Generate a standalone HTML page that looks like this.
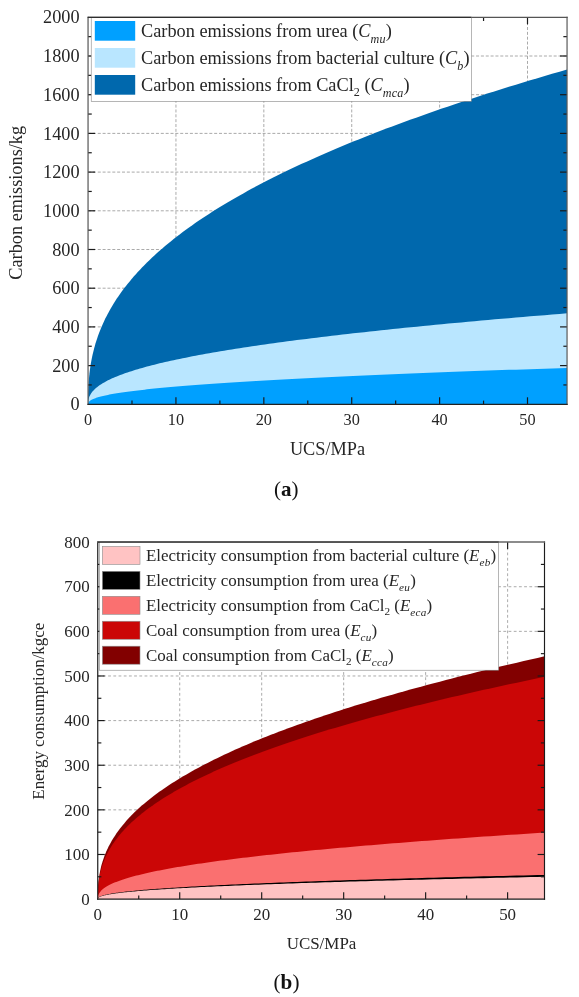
<!DOCTYPE html>
<html lang="en"><head><meta charset="utf-8"><title>Carbon emissions and energy consumption vs UCS</title>
<style>html,body{margin:0;padding:0;background:#fff}svg{display:block;will-change:transform}</style>
</head><body>
<svg width="579" height="997" viewBox="0 0 579 997">
<rect width="579" height="997" fill="#ffffff"/>
<g stroke="#7c7c7c" stroke-width="0.65" stroke-dasharray="3 1.85" fill="none">
<line x1="175.94" y1="17.3" x2="175.94" y2="404.3"/>
<line x1="263.83" y1="17.3" x2="263.83" y2="404.3"/>
<line x1="351.72" y1="17.3" x2="351.72" y2="404.3"/>
<line x1="439.61" y1="17.3" x2="439.61" y2="404.3"/>
<line x1="527.5" y1="17.3" x2="527.5" y2="404.3"/>
<line x1="88.05" y1="365.6" x2="567.05" y2="365.6"/>
<line x1="88.05" y1="326.9" x2="567.05" y2="326.9"/>
<line x1="88.05" y1="288.2" x2="567.05" y2="288.2"/>
<line x1="88.05" y1="249.5" x2="567.05" y2="249.5"/>
<line x1="88.05" y1="210.8" x2="567.05" y2="210.8"/>
<line x1="88.05" y1="172.1" x2="567.05" y2="172.1"/>
<line x1="88.05" y1="133.4" x2="567.05" y2="133.4"/>
<line x1="88.05" y1="94.7" x2="567.05" y2="94.7"/>
<line x1="88.05" y1="56" x2="567.05" y2="56"/>
</g>
<clipPath id="clipA"><rect x="88.05" y="17.3" width="479" height="387"/></clipPath>
<g clip-path="url(#clipA)">
<path d="M88.05,404.3L88.05,404.3L88.06,400.42L88.09,397.05L88.15,393.85L88.24,390.75L88.36,387.73L88.52,384.77L88.71,381.85L88.93,378.98L89.19,376.14L89.49,373.33L89.83,370.55L90.2,367.8L90.62,365.06L91.07,362.35L91.57,359.66L92.1,356.98L92.68,354.32L93.3,351.68L93.97,349.05L94.67,346.43L95.42,343.83L96.22,341.24L97.06,338.66L97.94,336.09L98.87,333.53L99.85,330.98L100.87,328.44L101.94,325.91L103.05,323.39L104.21,320.88L105.42,318.37L106.68,315.88L107.98,313.39L109.34,310.91L110.74,308.43L112.19,305.97L113.69,303.51L115.24,301.05L116.84,298.6L118.49,296.16L120.19,293.73L121.93,291.3L123.73,288.87L125.59,286.45L127.49,284.04L129.44,281.63L131.45,279.23L133.51,276.83L135.61,274.44L137.78,272.05L139.99,269.67L142.26,267.29L144.58,264.91L146.95,262.54L149.38,260.18L151.86,257.82L154.39,255.46L156.98,253.11L159.62,250.76L162.32,248.41L165.07,246.07L167.87,243.73L170.73,241.4L173.65,239.07L176.62,236.74L179.64,234.42L182.72,232.1L185.86,229.78L189.05,227.47L192.3,225.16L195.6,222.85L198.96,220.55L202.38,218.25L205.85,215.95L209.39,213.66L212.97,211.36L216.62,209.08L220.32,206.79L224.08,204.51L227.9,202.23L231.77,199.95L235.7,197.68L239.69,195.41L243.74,193.14L247.85,190.87L252.01,188.61L256.24,186.35L260.52,184.09L264.86,181.83L269.26,179.58L273.72,177.33L278.24,175.08L282.82,172.83L287.45,170.59L292.15,168.35L296.91,166.11L301.72,163.87L306.6,161.64L311.54,159.4L316.53,157.17L321.59,154.95L326.71,152.72L331.88,150.5L337.12,148.27L342.42,146.05L347.78,143.84L353.2,141.62L358.69,139.41L364.23,137.2L369.83,134.99L375.5,132.78L381.23,130.58L387.02,128.37L392.87,126.17L398.78,123.97L404.76,121.77L410.8,119.58L416.9,117.38L423.06,115.19L429.28,113L435.57,110.81L441.92,108.62L448.33,106.44L454.81,104.26L461.35,102.07L467.95,99.89L474.61,97.72L481.34,95.54L488.13,93.36L494.99,91.19L501.91,89.02L508.89,86.85L515.94,84.68L523.05,82.51L530.22,80.35L537.46,78.18L544.76,76.02L552.12,73.86L559.56,71.7L567.05,69.55L567.05,404.3Z" fill="#0068ad"/>
<path d="M88.05,404.3L88.05,404.3L88.06,403.35L88.09,402.51L88.15,401.69L88.24,400.9L88.36,400.12L88.52,399.35L88.71,398.59L88.93,397.84L89.19,397.1L89.49,396.36L89.83,395.63L90.2,394.9L90.62,394.18L91.07,393.47L91.57,392.75L92.1,392.04L92.68,391.34L93.3,390.63L93.97,389.93L94.67,389.24L95.42,388.54L96.22,387.85L97.06,387.16L97.94,386.47L98.87,385.79L99.85,385.1L100.87,384.42L101.94,383.74L103.05,383.07L104.21,382.39L105.42,381.72L106.68,381.05L107.98,380.37L109.34,379.71L110.74,379.04L112.19,378.37L113.69,377.71L115.24,377.04L116.84,376.38L118.49,375.72L120.19,375.06L121.93,374.4L123.73,373.75L125.59,373.09L127.49,372.43L129.44,371.78L131.45,371.13L133.51,370.48L135.61,369.83L137.78,369.18L139.99,368.53L142.26,367.88L144.58,367.23L146.95,366.59L149.38,365.94L151.86,365.3L154.39,364.66L156.98,364.01L159.62,363.37L162.32,362.73L165.07,362.09L167.87,361.45L170.73,360.81L173.65,360.18L176.62,359.54L179.64,358.9L182.72,358.27L185.86,357.63L189.05,357L192.3,356.37L195.6,355.74L198.96,355.1L202.38,354.47L205.85,353.84L209.39,353.21L212.97,352.58L216.62,351.96L220.32,351.33L224.08,350.7L227.9,350.07L231.77,349.45L235.7,348.82L239.69,348.2L243.74,347.57L247.85,346.95L252.01,346.33L256.24,345.7L260.52,345.08L264.86,344.46L269.26,343.84L273.72,343.22L278.24,342.6L282.82,341.98L287.45,341.36L292.15,340.74L296.91,340.12L301.72,339.51L306.6,338.89L311.54,338.27L316.53,337.66L321.59,337.04L326.71,336.43L331.88,335.81L337.12,335.2L342.42,334.58L347.78,333.97L353.2,333.36L358.69,332.74L364.23,332.13L369.83,331.52L375.5,330.91L381.23,330.3L387.02,329.69L392.87,329.08L398.78,328.47L404.76,327.86L410.8,327.25L416.9,326.64L423.06,326.04L429.28,325.43L435.57,324.82L441.92,324.21L448.33,323.61L454.81,323L461.35,322.4L467.95,321.79L474.61,321.19L481.34,320.58L488.13,319.98L494.99,319.37L501.91,318.77L508.89,318.17L515.94,317.56L523.05,316.96L530.22,316.36L537.46,315.76L544.76,315.16L552.12,314.56L559.56,313.96L567.05,313.36L567.05,404.3Z" fill="#b9e6ff"/>
<path d="M88.05,404.3L88.05,404.3L88.06,403.94L88.09,403.62L88.15,403.3L88.24,402.99L88.36,402.69L88.52,402.39L88.71,402.09L88.93,401.8L89.19,401.5L89.49,401.22L89.83,400.93L90.2,400.64L90.62,400.36L91.07,400.07L91.57,399.79L92.1,399.51L92.68,399.23L93.3,398.96L93.97,398.68L94.67,398.4L95.42,398.13L96.22,397.85L97.06,397.58L97.94,397.31L98.87,397.03L99.85,396.76L100.87,396.49L101.94,396.22L103.05,395.95L104.21,395.68L105.42,395.42L106.68,395.15L107.98,394.88L109.34,394.61L110.74,394.35L112.19,394.08L113.69,393.82L115.24,393.55L116.84,393.29L118.49,393.02L120.19,392.76L121.93,392.5L123.73,392.24L125.59,391.97L127.49,391.71L129.44,391.45L131.45,391.19L133.51,390.93L135.61,390.67L137.78,390.41L139.99,390.15L142.26,389.89L144.58,389.63L146.95,389.37L149.38,389.11L151.86,388.86L154.39,388.6L156.98,388.34L159.62,388.08L162.32,387.83L165.07,387.57L167.87,387.31L170.73,387.06L173.65,386.8L176.62,386.55L179.64,386.29L182.72,386.04L185.86,385.78L189.05,385.53L192.3,385.27L195.6,385.02L198.96,384.76L202.38,384.51L205.85,384.26L209.39,384L212.97,383.75L216.62,383.5L220.32,383.25L224.08,382.99L227.9,382.74L231.77,382.49L235.7,382.24L239.69,381.99L243.74,381.74L247.85,381.49L252.01,381.23L256.24,380.98L260.52,380.73L264.86,380.48L269.26,380.23L273.72,379.98L278.24,379.73L282.82,379.48L287.45,379.23L292.15,378.98L296.91,378.74L301.72,378.49L306.6,378.24L311.54,377.99L316.53,377.74L321.59,377.49L326.71,377.24L331.88,377L337.12,376.75L342.42,376.5L347.78,376.25L353.2,376.01L358.69,375.76L364.23,375.51L369.83,375.27L375.5,375.02L381.23,374.77L387.02,374.53L392.87,374.28L398.78,374.03L404.76,373.79L410.8,373.54L416.9,373.3L423.06,373.05L429.28,372.8L435.57,372.56L441.92,372.31L448.33,372.07L454.81,371.82L461.35,371.58L467.95,371.33L474.61,371.09L481.34,370.85L488.13,370.6L494.99,370.36L501.91,370.11L508.89,369.87L515.94,369.63L523.05,369.38L530.22,369.14L537.46,368.89L544.76,368.65L552.12,368.41L559.56,368.17L567.05,367.92L567.05,404.3Z" fill="#00a0ff"/>
</g>
<g stroke="#1a1a1a" stroke-width="1.2" fill="none">
<line x1="175.94" y1="404.3" x2="175.94" y2="397.3"/>
<line x1="175.94" y1="17.3" x2="175.94" y2="24.3"/>
<line x1="263.83" y1="404.3" x2="263.83" y2="397.3"/>
<line x1="263.83" y1="17.3" x2="263.83" y2="24.3"/>
<line x1="351.72" y1="404.3" x2="351.72" y2="397.3"/>
<line x1="351.72" y1="17.3" x2="351.72" y2="24.3"/>
<line x1="439.61" y1="404.3" x2="439.61" y2="397.3"/>
<line x1="439.61" y1="17.3" x2="439.61" y2="24.3"/>
<line x1="527.5" y1="404.3" x2="527.5" y2="397.3"/>
<line x1="527.5" y1="17.3" x2="527.5" y2="24.3"/>
<line x1="131.99" y1="404.3" x2="131.99" y2="400.6"/>
<line x1="131.99" y1="17.3" x2="131.99" y2="21"/>
<line x1="219.88" y1="404.3" x2="219.88" y2="400.6"/>
<line x1="219.88" y1="17.3" x2="219.88" y2="21"/>
<line x1="307.77" y1="404.3" x2="307.77" y2="400.6"/>
<line x1="307.77" y1="17.3" x2="307.77" y2="21"/>
<line x1="395.66" y1="404.3" x2="395.66" y2="400.6"/>
<line x1="395.66" y1="17.3" x2="395.66" y2="21"/>
<line x1="483.55" y1="404.3" x2="483.55" y2="400.6"/>
<line x1="483.55" y1="17.3" x2="483.55" y2="21"/>
<line x1="88.05" y1="365.6" x2="95.05" y2="365.6"/>
<line x1="567.05" y1="365.6" x2="560.05" y2="365.6"/>
<line x1="88.05" y1="326.9" x2="95.05" y2="326.9"/>
<line x1="567.05" y1="326.9" x2="560.05" y2="326.9"/>
<line x1="88.05" y1="288.2" x2="95.05" y2="288.2"/>
<line x1="567.05" y1="288.2" x2="560.05" y2="288.2"/>
<line x1="88.05" y1="249.5" x2="95.05" y2="249.5"/>
<line x1="567.05" y1="249.5" x2="560.05" y2="249.5"/>
<line x1="88.05" y1="210.8" x2="95.05" y2="210.8"/>
<line x1="567.05" y1="210.8" x2="560.05" y2="210.8"/>
<line x1="88.05" y1="172.1" x2="95.05" y2="172.1"/>
<line x1="567.05" y1="172.1" x2="560.05" y2="172.1"/>
<line x1="88.05" y1="133.4" x2="95.05" y2="133.4"/>
<line x1="567.05" y1="133.4" x2="560.05" y2="133.4"/>
<line x1="88.05" y1="94.7" x2="95.05" y2="94.7"/>
<line x1="567.05" y1="94.7" x2="560.05" y2="94.7"/>
<line x1="88.05" y1="56" x2="95.05" y2="56"/>
<line x1="567.05" y1="56" x2="560.05" y2="56"/>
<line x1="88.05" y1="384.95" x2="91.75" y2="384.95"/>
<line x1="567.05" y1="384.95" x2="563.35" y2="384.95"/>
<line x1="88.05" y1="346.25" x2="91.75" y2="346.25"/>
<line x1="567.05" y1="346.25" x2="563.35" y2="346.25"/>
<line x1="88.05" y1="307.55" x2="91.75" y2="307.55"/>
<line x1="567.05" y1="307.55" x2="563.35" y2="307.55"/>
<line x1="88.05" y1="268.85" x2="91.75" y2="268.85"/>
<line x1="567.05" y1="268.85" x2="563.35" y2="268.85"/>
<line x1="88.05" y1="230.15" x2="91.75" y2="230.15"/>
<line x1="567.05" y1="230.15" x2="563.35" y2="230.15"/>
<line x1="88.05" y1="191.45" x2="91.75" y2="191.45"/>
<line x1="567.05" y1="191.45" x2="563.35" y2="191.45"/>
<line x1="88.05" y1="152.75" x2="91.75" y2="152.75"/>
<line x1="567.05" y1="152.75" x2="563.35" y2="152.75"/>
<line x1="88.05" y1="114.05" x2="91.75" y2="114.05"/>
<line x1="567.05" y1="114.05" x2="563.35" y2="114.05"/>
<line x1="88.05" y1="75.35" x2="91.75" y2="75.35"/>
<line x1="567.05" y1="75.35" x2="563.35" y2="75.35"/>
<line x1="88.05" y1="36.65" x2="91.75" y2="36.65"/>
<line x1="567.05" y1="36.65" x2="563.35" y2="36.65"/>
<line x1="88.05" y1="16.7" x2="88.05" y2="404.9" stroke="#555" stroke-width="1.2"/>
<line x1="567.05" y1="16.7" x2="567.05" y2="404.9" stroke="#5a5a5a" stroke-width="1.2"/>
<line x1="87.45" y1="17.3" x2="567.65" y2="17.3" stroke="#555" stroke-width="1.2"/>
<line x1="87.45" y1="404.3" x2="567.65" y2="404.3" stroke="#222" stroke-width="1.25"/>
</g>
<g font-family='"Liberation Serif", "DejaVu Serif", serif' font-size="18.3" fill="#262626">
<text x="79.55" y="410.43" text-anchor="end">0</text>
<text x="79.55" y="371.73" text-anchor="end">200</text>
<text x="79.55" y="333.03" text-anchor="end">400</text>
<text x="79.55" y="294.33" text-anchor="end">600</text>
<text x="79.55" y="255.63" text-anchor="end">800</text>
<text x="79.55" y="216.93" text-anchor="end">1000</text>
<text x="79.55" y="178.23" text-anchor="end">1200</text>
<text x="79.55" y="139.53" text-anchor="end">1400</text>
<text x="79.55" y="100.83" text-anchor="end">1600</text>
<text x="79.55" y="62.13" text-anchor="end">1800</text>
<text x="79.55" y="23.43" text-anchor="end">2000</text>
<text x="88.05" y="425.2" text-anchor="middle" font-size="16.3">0</text>
<text x="175.94" y="425.2" text-anchor="middle" font-size="16.3">10</text>
<text x="263.83" y="425.2" text-anchor="middle" font-size="16.3">20</text>
<text x="351.72" y="425.2" text-anchor="middle" font-size="16.3">30</text>
<text x="439.61" y="425.2" text-anchor="middle" font-size="16.3">40</text>
<text x="527.5" y="425.2" text-anchor="middle" font-size="16.3">50</text>
</g>
<rect x="91.2" y="17.3" width="380.2" height="84" fill="#ffffff" stroke="#7a7a7a" stroke-width="0.55"/>
<line x1="88.05" y1="17.3" x2="471.4" y2="17.3" stroke="#2e2e2e" stroke-width="1.35"/>
<g font-family='"Liberation Serif", "DejaVu Serif", serif' font-size="18.3" fill="#262626">
<rect x="94.8" y="21" width="40.4" height="19.7" fill="#00a0ff"/>
<text x="141" y="36.8" xml:space="preserve">Carbon emissions from urea (<tspan font-style="italic">C</tspan><tspan font-style="italic" font-size="12.08" dy="5.86" letter-spacing="0.25">mu</tspan><tspan dy="-5.86">)</tspan></text>
<rect x="94.8" y="48" width="40.4" height="19.7" fill="#b9e6ff"/>
<text x="141" y="63.8" xml:space="preserve">Carbon emissions from bacterial culture (<tspan font-style="italic">C</tspan><tspan font-style="italic" font-size="12.08" dy="5.86" letter-spacing="0.25">b</tspan><tspan dy="-5.86">)</tspan></text>
<rect x="94.8" y="75" width="40.4" height="19.7" fill="#0068ad"/>
<text x="141" y="90.8" xml:space="preserve">Carbon emissions from CaCl<tspan font-size="12.08" dy="4.94">2</tspan><tspan dy="-4.94"> (</tspan><tspan font-style="italic">C</tspan><tspan font-style="italic" font-size="12.08" dy="5.86" letter-spacing="0.25">mca</tspan><tspan dy="-5.86">)</tspan></text>
</g>
<g font-family='"Liberation Serif", "DejaVu Serif", serif' font-size="18.3" fill="#262626">
<text x="327.5" y="455" text-anchor="middle">UCS/MPa</text>
<text transform="translate(21.9,202.8) rotate(-90)" text-anchor="middle">Carbon emissions/kg</text>
</g>
<text x="286.3" y="496.2" text-anchor="middle" font-family='"Liberation Serif", "DejaVu Serif", serif' font-size="21" fill="#111">(<tspan font-weight="bold">a</tspan>)</text>
<g stroke="#7c7c7c" stroke-width="0.65" stroke-dasharray="2.8 2.4" fill="none">
<line x1="179.72" y1="542.1" x2="179.72" y2="899.1"/>
<line x1="261.69" y1="542.1" x2="261.69" y2="899.1"/>
<line x1="343.67" y1="542.1" x2="343.67" y2="899.1"/>
<line x1="425.64" y1="542.1" x2="425.64" y2="899.1"/>
<line x1="507.61" y1="542.1" x2="507.61" y2="899.1"/>
<line x1="97.75" y1="854.48" x2="544.5" y2="854.48"/>
<line x1="97.75" y1="809.85" x2="544.5" y2="809.85"/>
<line x1="97.75" y1="765.23" x2="544.5" y2="765.23"/>
<line x1="97.75" y1="720.6" x2="544.5" y2="720.6"/>
<line x1="97.75" y1="675.98" x2="544.5" y2="675.98"/>
<line x1="97.75" y1="631.35" x2="544.5" y2="631.35"/>
<line x1="97.75" y1="586.73" x2="544.5" y2="586.73"/>
</g>
<clipPath id="clipB"><rect x="97.75" y="542.1" width="446.75" height="357"/></clipPath>
<g clip-path="url(#clipB)">
<path d="M97.75,899.1L97.75,899.1L97.76,896.35L97.79,893.94L97.85,891.65L97.93,889.43L98.04,887.26L98.19,885.13L98.36,883.03L98.57,880.97L98.82,878.92L99.09,876.9L99.41,874.9L99.76,872.91L100.14,870.94L100.57,868.99L101.03,867.04L101.53,865.11L102.07,863.19L102.65,861.28L103.27,859.38L103.93,857.49L104.63,855.61L105.37,853.74L106.15,851.87L106.98,850.01L107.84,848.16L108.75,846.32L109.71,844.48L110.7,842.65L111.74,840.83L112.82,839.01L113.95,837.2L115.12,835.39L116.34,833.59L117.6,831.79L118.91,830L120.26,828.21L121.66,826.43L123.11,824.65L124.6,822.88L126.14,821.11L127.72,819.35L129.35,817.58L131.03,815.83L132.76,814.07L134.53,812.32L136.36,810.58L138.23,808.84L140.14,807.1L142.11,805.36L144.13,803.63L146.19,801.9L148.31,800.17L150.47,798.45L152.69,796.73L154.95,795.01L157.26,793.3L159.62,791.59L162.04,789.88L164.5,788.18L167.02,786.47L169.58,784.77L172.2,783.08L174.86,781.38L177.58,779.69L180.35,778L183.17,776.31L186.05,774.63L188.97,772.94L191.95,771.26L194.98,769.58L198.06,767.91L201.2,766.23L204.38,764.56L207.62,762.89L210.92,761.23L214.26,759.56L217.66,757.9L221.11,756.24L224.62,754.58L228.18,752.92L231.79,751.26L235.46,749.61L239.18,747.96L242.96,746.31L246.79,744.66L250.68,743.02L254.61,741.37L258.61,739.73L262.66,738.09L266.76,736.45L270.92,734.81L275.13,733.18L279.4,731.54L283.73,729.91L288.11,728.28L292.55,726.65L297.04,725.02L301.59,723.4L306.19,721.77L310.85,720.15L315.57,718.53L320.34,716.91L325.17,715.29L330.05,713.68L335,712.06L340,710.45L345.05,708.83L350.16,707.22L355.34,705.61L360.56,704.01L365.85,702.4L371.19,700.79L376.59,699.19L382.05,697.59L387.56,695.98L393.14,694.38L398.77,692.79L404.46,691.19L410.2,689.59L416.01,688L421.87,686.4L427.8,684.81L433.78,683.22L439.82,681.63L445.91,680.04L452.07,678.45L458.29,676.86L464.56,675.28L470.9,673.69L477.29,672.11L483.74,670.53L490.26,668.95L496.83,667.37L503.46,665.79L510.15,664.21L516.9,662.64L523.71,661.06L530.58,659.49L537.51,657.91L544.5,656.34L544.5,899.1Z" fill="#820000"/>
<path d="M97.75,899.1L97.75,899.1L97.76,896.58L97.79,894.37L97.85,892.28L97.93,890.24L98.04,888.26L98.19,886.31L98.36,884.39L98.57,882.5L98.82,880.63L99.09,878.78L99.41,876.94L99.76,875.13L100.14,873.32L100.57,871.53L101.03,869.75L101.53,867.98L102.07,866.23L102.65,864.48L103.27,862.74L103.93,861.01L104.63,859.29L105.37,857.57L106.15,855.87L106.98,854.17L107.84,852.47L108.75,850.78L109.71,849.1L110.7,847.43L111.74,845.76L112.82,844.09L113.95,842.43L115.12,840.78L116.34,839.13L117.6,837.48L118.91,835.84L120.26,834.21L121.66,832.58L123.11,830.95L124.6,829.33L126.14,827.71L127.72,826.09L129.35,824.48L131.03,822.87L132.76,821.26L134.53,819.66L136.36,818.06L138.23,816.47L140.14,814.88L142.11,813.29L144.13,811.7L146.19,810.12L148.31,808.54L150.47,806.96L152.69,805.39L154.95,803.82L157.26,802.25L159.62,800.68L162.04,799.12L164.5,797.56L167.02,796L169.58,794.44L172.2,792.89L174.86,791.33L177.58,789.79L180.35,788.24L183.17,786.69L186.05,785.15L188.97,783.61L191.95,782.07L194.98,780.54L198.06,779L201.2,777.47L204.38,775.94L207.62,774.41L210.92,772.88L214.26,771.36L217.66,769.84L221.11,768.32L224.62,766.8L228.18,765.28L231.79,763.77L235.46,762.25L239.18,760.74L242.96,759.23L246.79,757.72L250.68,756.22L254.61,754.71L258.61,753.21L262.66,751.7L266.76,750.2L270.92,748.71L275.13,747.21L279.4,745.71L283.73,744.22L288.11,742.73L292.55,741.23L297.04,739.74L301.59,738.26L306.19,736.77L310.85,735.28L315.57,733.8L320.34,732.32L325.17,730.84L330.05,729.36L335,727.88L340,726.4L345.05,724.92L350.16,723.45L355.34,721.97L360.56,720.5L365.85,719.03L371.19,717.56L376.59,716.09L382.05,714.63L387.56,713.16L393.14,711.69L398.77,710.23L404.46,708.77L410.2,707.31L416.01,705.85L421.87,704.39L427.8,702.93L433.78,701.47L439.82,700.02L445.91,698.56L452.07,697.11L458.29,695.66L464.56,694.2L470.9,692.75L477.29,691.3L483.74,689.86L490.26,688.41L496.83,686.96L503.46,685.52L510.15,684.07L516.9,682.63L523.71,681.19L530.58,679.75L537.51,678.31L544.5,676.87L544.5,899.1Z" fill="#cb0606"/>
<path d="M97.75,899.1L97.75,899.1L97.76,898.45L97.79,897.85L97.85,897.27L97.93,896.71L98.04,896.15L98.19,895.6L98.36,895.06L98.57,894.52L98.82,893.99L99.09,893.46L99.41,892.94L99.76,892.41L100.14,891.89L100.57,891.38L101.03,890.86L101.53,890.35L102.07,889.84L102.65,889.33L103.27,888.83L103.93,888.32L104.63,887.82L105.37,887.32L106.15,886.82L106.98,886.32L107.84,885.82L108.75,885.32L109.71,884.83L110.7,884.34L111.74,883.84L112.82,883.35L113.95,882.86L115.12,882.37L116.34,881.88L117.6,881.4L118.91,880.91L120.26,880.42L121.66,879.94L123.11,879.46L124.6,878.97L126.14,878.49L127.72,878.01L129.35,877.53L131.03,877.05L132.76,876.57L134.53,876.09L136.36,875.61L138.23,875.14L140.14,874.66L142.11,874.18L144.13,873.71L146.19,873.23L148.31,872.76L150.47,872.29L152.69,871.82L154.95,871.34L157.26,870.87L159.62,870.4L162.04,869.93L164.5,869.46L167.02,868.99L169.58,868.52L172.2,868.05L174.86,867.58L177.58,867.12L180.35,866.65L183.17,866.18L186.05,865.72L188.97,865.25L191.95,864.79L194.98,864.32L198.06,863.86L201.2,863.39L204.38,862.93L207.62,862.47L210.92,862L214.26,861.54L217.66,861.08L221.11,860.62L224.62,860.16L228.18,859.7L231.79,859.24L235.46,858.78L239.18,858.32L242.96,857.86L246.79,857.4L250.68,856.94L254.61,856.48L258.61,856.02L262.66,855.57L266.76,855.11L270.92,854.65L275.13,854.2L279.4,853.74L283.73,853.28L288.11,852.83L292.55,852.37L297.04,851.92L301.59,851.46L306.19,851.01L310.85,850.56L315.57,850.1L320.34,849.65L325.17,849.2L330.05,848.74L335,848.29L340,847.84L345.05,847.39L350.16,846.93L355.34,846.48L360.56,846.03L365.85,845.58L371.19,845.13L376.59,844.68L382.05,844.23L387.56,843.78L393.14,843.33L398.77,842.88L404.46,842.43L410.2,841.98L416.01,841.53L421.87,841.09L427.8,840.64L433.78,840.19L439.82,839.74L445.91,839.29L452.07,838.85L458.29,838.4L464.56,837.95L470.9,837.51L477.29,837.06L483.74,836.61L490.26,836.17L496.83,835.72L503.46,835.28L510.15,834.83L516.9,834.39L523.71,833.94L530.58,833.5L537.51,833.05L544.5,832.61L544.5,899.1Z" fill="#fa7070"/>
<path d="M97.75,899.1L97.75,899.1L97.76,898.86L97.79,898.64L97.85,898.43L97.93,898.23L98.04,898.03L98.19,897.83L98.36,897.63L98.57,897.44L98.82,897.24L99.09,897.05L99.41,896.86L99.76,896.67L100.14,896.48L100.57,896.29L101.03,896.1L101.53,895.92L102.07,895.73L102.65,895.55L103.27,895.36L103.93,895.18L104.63,895L105.37,894.81L106.15,894.63L106.98,894.45L107.84,894.27L108.75,894.09L109.71,893.91L110.7,893.73L111.74,893.55L112.82,893.37L113.95,893.19L115.12,893.01L116.34,892.84L117.6,892.66L118.91,892.48L120.26,892.31L121.66,892.13L123.11,891.95L124.6,891.78L126.14,891.6L127.72,891.43L129.35,891.25L131.03,891.08L132.76,890.9L134.53,890.73L136.36,890.56L138.23,890.38L140.14,890.21L142.11,890.04L144.13,889.86L146.19,889.69L148.31,889.52L150.47,889.35L152.69,889.17L154.95,889L157.26,888.83L159.62,888.66L162.04,888.49L164.5,888.32L167.02,888.15L169.58,887.98L172.2,887.81L174.86,887.64L177.58,887.47L180.35,887.3L183.17,887.13L186.05,886.96L188.97,886.79L191.95,886.62L194.98,886.45L198.06,886.28L201.2,886.11L204.38,885.94L207.62,885.77L210.92,885.61L214.26,885.44L217.66,885.27L221.11,885.1L224.62,884.93L228.18,884.77L231.79,884.6L235.46,884.43L239.18,884.27L242.96,884.1L246.79,883.93L250.68,883.76L254.61,883.6L258.61,883.43L262.66,883.26L266.76,883.1L270.92,882.93L275.13,882.77L279.4,882.6L283.73,882.43L288.11,882.27L292.55,882.1L297.04,881.94L301.59,881.77L306.19,881.61L310.85,881.44L315.57,881.28L320.34,881.11L325.17,880.95L330.05,880.78L335,880.62L340,880.45L345.05,880.29L350.16,880.12L355.34,879.96L360.56,879.8L365.85,879.63L371.19,879.47L376.59,879.3L382.05,879.14L387.56,878.98L393.14,878.81L398.77,878.65L404.46,878.49L410.2,878.32L416.01,878.16L421.87,878L427.8,877.83L433.78,877.67L439.82,877.51L445.91,877.35L452.07,877.18L458.29,877.02L464.56,876.86L470.9,876.69L477.29,876.53L483.74,876.37L490.26,876.21L496.83,876.05L503.46,875.88L510.15,875.72L516.9,875.56L523.71,875.4L530.58,875.24L537.51,875.07L544.5,874.91L544.5,899.1Z" fill="#000000"/>
<path d="M97.75,899.1L97.75,899.1L97.76,898.88L97.79,898.68L97.85,898.49L97.93,898.3L98.04,898.11L98.19,897.93L98.36,897.74L98.57,897.56L98.82,897.39L99.09,897.21L99.41,897.03L99.76,896.86L100.14,896.68L100.57,896.51L101.03,896.34L101.53,896.16L102.07,895.99L102.65,895.82L103.27,895.65L103.93,895.48L104.63,895.31L105.37,895.15L106.15,894.98L106.98,894.81L107.84,894.64L108.75,894.48L109.71,894.31L110.7,894.15L111.74,893.98L112.82,893.82L113.95,893.65L115.12,893.49L116.34,893.32L117.6,893.16L118.91,893L120.26,892.83L121.66,892.67L123.11,892.51L124.6,892.35L126.14,892.18L127.72,892.02L129.35,891.86L131.03,891.7L132.76,891.54L134.53,891.38L136.36,891.22L138.23,891.06L140.14,890.9L142.11,890.74L144.13,890.58L146.19,890.42L148.31,890.26L150.47,890.1L152.69,889.94L154.95,889.79L157.26,889.63L159.62,889.47L162.04,889.31L164.5,889.15L167.02,889L169.58,888.84L172.2,888.68L174.86,888.52L177.58,888.37L180.35,888.21L183.17,888.05L186.05,887.9L188.97,887.74L191.95,887.59L194.98,887.43L198.06,887.27L201.2,887.12L204.38,886.96L207.62,886.81L210.92,886.65L214.26,886.5L217.66,886.34L221.11,886.19L224.62,886.03L228.18,885.88L231.79,885.72L235.46,885.57L239.18,885.41L242.96,885.26L246.79,885.11L250.68,884.95L254.61,884.8L258.61,884.65L262.66,884.49L266.76,884.34L270.92,884.19L275.13,884.03L279.4,883.88L283.73,883.73L288.11,883.57L292.55,883.42L297.04,883.27L301.59,883.11L306.19,882.96L310.85,882.81L315.57,882.66L320.34,882.51L325.17,882.35L330.05,882.2L335,882.05L340,881.9L345.05,881.75L350.16,881.59L355.34,881.44L360.56,881.29L365.85,881.14L371.19,880.99L376.59,880.84L382.05,880.69L387.56,880.54L393.14,880.39L398.77,880.23L404.46,880.08L410.2,879.93L416.01,879.78L421.87,879.63L427.8,879.48L433.78,879.33L439.82,879.18L445.91,879.03L452.07,878.88L458.29,878.73L464.56,878.58L470.9,878.43L477.29,878.28L483.74,878.13L490.26,877.98L496.83,877.83L503.46,877.68L510.15,877.53L516.9,877.38L523.71,877.23L530.58,877.09L537.51,876.94L544.5,876.79L544.5,899.1Z" fill="#ffc3c3"/>
</g>
<g stroke="#1a1a1a" stroke-width="1.15" fill="none">
<line x1="179.72" y1="899.1" x2="179.72" y2="892.2"/>
<line x1="179.72" y1="542.1" x2="179.72" y2="549"/>
<line x1="261.69" y1="899.1" x2="261.69" y2="892.2"/>
<line x1="261.69" y1="542.1" x2="261.69" y2="549"/>
<line x1="343.67" y1="899.1" x2="343.67" y2="892.2"/>
<line x1="343.67" y1="542.1" x2="343.67" y2="549"/>
<line x1="425.64" y1="899.1" x2="425.64" y2="892.2"/>
<line x1="425.64" y1="542.1" x2="425.64" y2="549"/>
<line x1="507.61" y1="899.1" x2="507.61" y2="892.2"/>
<line x1="507.61" y1="542.1" x2="507.61" y2="549"/>
<line x1="138.74" y1="899.1" x2="138.74" y2="895.5"/>
<line x1="138.74" y1="542.1" x2="138.74" y2="545.7"/>
<line x1="220.71" y1="899.1" x2="220.71" y2="895.5"/>
<line x1="220.71" y1="542.1" x2="220.71" y2="545.7"/>
<line x1="302.68" y1="899.1" x2="302.68" y2="895.5"/>
<line x1="302.68" y1="542.1" x2="302.68" y2="545.7"/>
<line x1="384.65" y1="899.1" x2="384.65" y2="895.5"/>
<line x1="384.65" y1="542.1" x2="384.65" y2="545.7"/>
<line x1="466.63" y1="899.1" x2="466.63" y2="895.5"/>
<line x1="466.63" y1="542.1" x2="466.63" y2="545.7"/>
<line x1="97.75" y1="854.48" x2="104.65" y2="854.48"/>
<line x1="544.5" y1="854.48" x2="537.6" y2="854.48"/>
<line x1="97.75" y1="809.85" x2="104.65" y2="809.85"/>
<line x1="544.5" y1="809.85" x2="537.6" y2="809.85"/>
<line x1="97.75" y1="765.23" x2="104.65" y2="765.23"/>
<line x1="544.5" y1="765.23" x2="537.6" y2="765.23"/>
<line x1="97.75" y1="720.6" x2="104.65" y2="720.6"/>
<line x1="544.5" y1="720.6" x2="537.6" y2="720.6"/>
<line x1="97.75" y1="675.98" x2="104.65" y2="675.98"/>
<line x1="544.5" y1="675.98" x2="537.6" y2="675.98"/>
<line x1="97.75" y1="631.35" x2="104.65" y2="631.35"/>
<line x1="544.5" y1="631.35" x2="537.6" y2="631.35"/>
<line x1="97.75" y1="586.73" x2="104.65" y2="586.73"/>
<line x1="544.5" y1="586.73" x2="537.6" y2="586.73"/>
<line x1="97.75" y1="876.79" x2="101.35" y2="876.79"/>
<line x1="544.5" y1="876.79" x2="540.9" y2="876.79"/>
<line x1="97.75" y1="832.16" x2="101.35" y2="832.16"/>
<line x1="544.5" y1="832.16" x2="540.9" y2="832.16"/>
<line x1="97.75" y1="787.54" x2="101.35" y2="787.54"/>
<line x1="544.5" y1="787.54" x2="540.9" y2="787.54"/>
<line x1="97.75" y1="742.91" x2="101.35" y2="742.91"/>
<line x1="544.5" y1="742.91" x2="540.9" y2="742.91"/>
<line x1="97.75" y1="698.29" x2="101.35" y2="698.29"/>
<line x1="544.5" y1="698.29" x2="540.9" y2="698.29"/>
<line x1="97.75" y1="653.66" x2="101.35" y2="653.66"/>
<line x1="544.5" y1="653.66" x2="540.9" y2="653.66"/>
<line x1="97.75" y1="609.04" x2="101.35" y2="609.04"/>
<line x1="544.5" y1="609.04" x2="540.9" y2="609.04"/>
<line x1="97.75" y1="564.41" x2="101.35" y2="564.41"/>
<line x1="544.5" y1="564.41" x2="540.9" y2="564.41"/>
<line x1="97.75" y1="541.52" x2="97.75" y2="899.68" stroke="#1c1c1c" stroke-width="1.2"/>
<line x1="544.5" y1="541.52" x2="544.5" y2="899.68" stroke="#1c1c1c" stroke-width="1.15"/>
<line x1="97.17" y1="542.1" x2="545.08" y2="542.1" stroke="#666" stroke-width="1.5"/>
<line x1="97.17" y1="899.1" x2="545.08" y2="899.1" stroke="#1c1c1c" stroke-width="1.2"/>
</g>
<g font-family='"Liberation Serif", "DejaVu Serif", serif' font-size="16.95" fill="#262626">
<text x="89.75" y="904.78" text-anchor="end">0</text>
<text x="89.75" y="860.15" text-anchor="end">100</text>
<text x="89.75" y="815.53" text-anchor="end">200</text>
<text x="89.75" y="770.9" text-anchor="end">300</text>
<text x="89.75" y="726.28" text-anchor="end">400</text>
<text x="89.75" y="681.65" text-anchor="end">500</text>
<text x="89.75" y="637.03" text-anchor="end">600</text>
<text x="89.75" y="592.4" text-anchor="end">700</text>
<text x="89.75" y="547.78" text-anchor="end">800</text>
<text x="97.75" y="920.3" text-anchor="middle" font-size="16.95">0</text>
<text x="179.72" y="920.3" text-anchor="middle" font-size="16.95">10</text>
<text x="261.69" y="920.3" text-anchor="middle" font-size="16.95">20</text>
<text x="343.67" y="920.3" text-anchor="middle" font-size="16.95">30</text>
<text x="425.64" y="920.3" text-anchor="middle" font-size="16.95">40</text>
<text x="507.61" y="920.3" text-anchor="middle" font-size="16.95">50</text>
</g>
<rect x="99.5" y="542.1" width="399.2" height="128.1" fill="#ffffff" stroke="#7a7a7a" stroke-width="0.55"/>
<line x1="97.75" y1="542.1" x2="498.7" y2="542.1" stroke="#2e2e2e" stroke-width="1.3"/>
<g font-family='"Liberation Serif", "DejaVu Serif", serif' font-size="16.95" fill="#262626">
<rect x="102.4" y="546.4" width="37.6" height="18" fill="#ffc3c3" stroke="#8c8c8c" stroke-width="0.6"/>
<text x="146" y="560.91" xml:space="preserve">Electricity consumption from bacterial culture (<tspan font-style="italic">E</tspan><tspan font-style="italic" font-size="11.19" dy="5.42" letter-spacing="0.25">eb</tspan><tspan dy="-5.42">)</tspan></text>
<rect x="102.4" y="571.35" width="37.6" height="18" fill="#000000" stroke="#8c8c8c" stroke-width="0.6"/>
<text x="146" y="585.86" xml:space="preserve">Electricity consumption from urea (<tspan font-style="italic">E</tspan><tspan font-style="italic" font-size="11.19" dy="5.42" letter-spacing="0.25">eu</tspan><tspan dy="-5.42">)</tspan></text>
<rect x="102.4" y="596.3" width="37.6" height="18" fill="#fa7070" stroke="#8c8c8c" stroke-width="0.6"/>
<text x="146" y="610.81" xml:space="preserve">Electricity consumption from CaCl<tspan font-size="11.19" dy="4.58">2</tspan><tspan dy="-4.58"> (</tspan><tspan font-style="italic">E</tspan><tspan font-style="italic" font-size="11.19" dy="5.42" letter-spacing="0.25">eca</tspan><tspan dy="-5.42">)</tspan></text>
<rect x="102.4" y="621.25" width="37.6" height="18" fill="#cb0606" stroke="#8c8c8c" stroke-width="0.6"/>
<text x="146" y="635.76" xml:space="preserve">Coal consumption from urea (<tspan font-style="italic">E</tspan><tspan font-style="italic" font-size="11.19" dy="5.42" letter-spacing="0.25">cu</tspan><tspan dy="-5.42">)</tspan></text>
<rect x="102.4" y="646.2" width="37.6" height="18" fill="#820000" stroke="#8c8c8c" stroke-width="0.6"/>
<text x="146" y="660.71" xml:space="preserve">Coal consumption from CaCl<tspan font-size="11.19" dy="4.58">2</tspan><tspan dy="-4.58"> (</tspan><tspan font-style="italic">E</tspan><tspan font-style="italic" font-size="11.19" dy="5.42" letter-spacing="0.25">cca</tspan><tspan dy="-5.42">)</tspan></text>
</g>
<g font-family='"Liberation Serif", "DejaVu Serif", serif' font-size="16.95" fill="#262626">
<text x="321.5" y="948.5" text-anchor="middle">UCS/MPa</text>
<text transform="translate(43.8,711.2) rotate(-90)" text-anchor="middle">Energy consumption/kgce</text>
</g>
<text x="286.5" y="988.6" text-anchor="middle" font-family='"Liberation Serif", "DejaVu Serif", serif' font-size="21.2" fill="#111">(<tspan font-weight="bold">b</tspan>)</text>
</svg>
</body></html>
